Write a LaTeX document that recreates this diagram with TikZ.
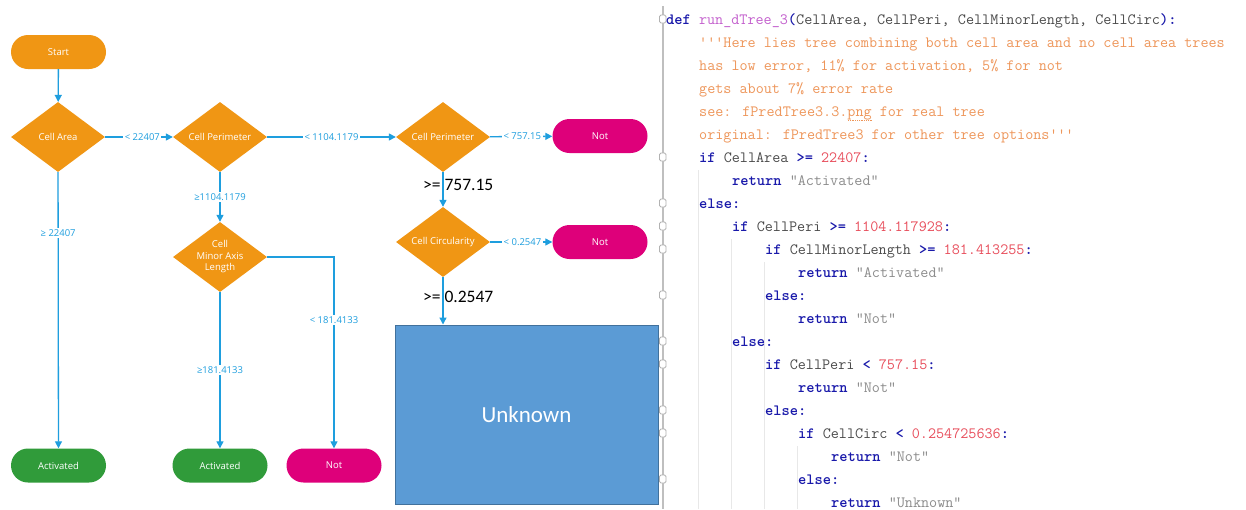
\documentclass[tikz,border=0pt]{standalone}
\usepackage{fontspec}
\setsansfont{Open Sans}
\newfontfamily\calfont{Carlito}
\usetikzlibrary{arrows.meta,shapes.geometric,positioning}
\definecolor{flowO}{RGB}{240,150,20}
\definecolor{flowM}{RGB}{222,0,122}
\definecolor{flowG}{RGB}{48,155,58}
\definecolor{flowB}{RGB}{30,158,222}
\definecolor{boxB}{RGB}{91,155,213}
\definecolor{boxE}{RGB}{65,113,156}
\definecolor{codeKw}{RGB}{25,25,170}
\definecolor{codeFn}{RGB}{195,95,205}
\definecolor{codeId}{RGB}{75,75,75}
\definecolor{codeDoc}{RGB}{238,150,90}
\definecolor{codeNum}{RGB}{232,78,92}
\definecolor{codeStr}{RGB}{140,140,140}
\newcommand\kw[1]{{\bfseries\color{codeKw}#1}}
\newcommand\cfn[1]{{\color{codeFn}#1}}
\newcommand\cid[1]{{\color{codeId}#1}}
\newcommand\cdoc[1]{{\color{codeDoc}#1}}
\newcommand\cnum[1]{{\color{codeNum}#1}}
\newcommand\cstr[1]{{\color{codeStr}#1}}
\newcommand\sq{\char"27\relax}

\begin{document}
\begin{tikzpicture}[x=1pt,y=-1pt,>={Triangle[length=7pt,width=7pt]},
  term/.style={rectangle,rounded corners=17pt,minimum width=95pt,minimum height=34pt,text=white,font=\sffamily\fontsize{9.5}{11}\selectfont},
  test/.style={diamond,aspect=1.33,inner sep=0pt,minimum width=94pt,minimum height=70pt,fill=flowO,text=white,align=center,font=\sffamily\fontsize{9.5}{11.5}\selectfont},
  link/.style={->,flowB,line width=1.3pt},
  cond/.style={fill=white,text=flowB,inner sep=1.5pt,font=\sffamily\fontsize{9.5}{11}\selectfont},
  big/.style={text=black,inner sep=0pt,font=\calfont\fontsize{17.5}{20}\selectfont},
  codeln/.style={anchor=base west,inner sep=0pt,font=\ttfamily\fontsize{15.7}{18}\selectfont},
  fold/.style={draw=black!30,fill=white,rounded corners=1.5pt,line width=0.8pt}]
\useasboundingbox[fill=white] (0,0) rectangle (1246,509);
% ---------- flow chart ----------
\node[term,fill=flowO] (start) at (58.5,52) {Start};
\node[test] (area) at (58,137) {Cell Area};
\node[test] (peri) at (220,137) {Cell Perimeter};
\node[test] (peri2) at (443,137) {Cell Perimeter};
\node[test] (circ) at (443,242) {Cell Circularity};
\node[test] (minor) at (220,257) {Cell\\Minor Axis\\Length};
\node[term,fill=flowM] (not1) at (600,136) {Not};
\node[term,fill=flowM] (not2) at (600,242) {Not};
\node[term,fill=flowG] (act1) at (58.5,465.5) {Activated};
\node[term,fill=flowG] (act2) at (220,465.5) {Activated};
\node[term,fill=flowM] (not3) at (334,465.5) {Not};
\node[rectangle,fill=boxB,draw=boxE,line width=1pt,minimum width=263pt,minimum height=179pt,text=white,font=\calfont\fontsize{23}{26}\selectfont] (unk) at (526.5,414.5) {Unknown};
% connectors
\draw[link] (start) -- (area);
\draw[link] (area) -- node[cond,pos=0.55]{< 22407} (peri);
\draw[link] (peri) -- node[cond]{< 1104.1179} (peri2);
\draw[link] (peri2) -- node[cond,pos=0.52]{< 757.15} (not1);
\draw[link] (circ) -- node[cond,pos=0.52]{< 0.2547} (not2);
\draw[link] (peri2) -- (circ);
\draw[link] (circ.south) -- (circ.south |- unk.north);
\draw[link] (area) -- node[cond,pos=0.22]{≥ 22407} (act1);
\draw[link] (peri) -- node[cond]{≥1104.1179} (minor);
\draw[link] (minor) -- node[cond]{≥181.4133} (act2);
\draw[link] (minor.east) -| node[cond,pos=0.665]{< 181.4133} (not3.north);
\node[big,anchor=west] (ge1) at (423,185) {>= 757.15};
\node[big,anchor=west] (ge2) at (423,297) {>= 0.2547};
% ---------- code ----------
\draw[black!25,line width=1.2pt] (663,6) -- (663,509);
\draw[black!9,line width=0.8pt] (698,170) -- (698,509);
\draw[black!9,line width=0.8pt] (731,239) -- (731,509);
\draw[black!9,line width=0.8pt] (764,262) -- (764,509);
\draw[black!9,line width=0.8pt] (797,446) -- (797,509);
\foreach \i in {1,7,9,10,11,13,15,16,18,19,21}
  \draw[fold] (659.5,{15+(\i-1)*23}) rectangle (666,{23+(\i-1)*23});
\node[codeln] (c1) at (666,24) {\kw{def} \cfn{run\_dTree\_3}\kw{(}\cid{CellArea, CellPeri, CellMinorLength, CellCirc}\kw{):}};
\node[codeln] (c2) at (699,47) {\cdoc{\sq\sq\sq Here lies tree combining both cell area and no cell area trees}};
\node[codeln] (c3) at (699,70) {\cdoc{has low error, 11\% for activation, 5\% for not}};
\node[codeln] (c4) at (699,93) {\cdoc{gets about 7\% error rate}};
\node[codeln] (c5) at (699,116) {\cdoc{see: fPredTree3.3.png for real tree}};
\node[codeln] (c6) at (699,139) {\cdoc{original: fPredTree3 for other tree options\sq\sq\sq}};
\node[codeln] (c7) at (699,162) {\kw{if} \cid{CellArea} \kw{>=} \cnum{22407}\kw{:}};
\node[codeln] (c8) at (732,185) {\kw{return} \cstr{"Activated"}};
\node[codeln] (c9) at (699,208) {\kw{else:}};
\node[codeln] (c10) at (732,231) {\kw{if} \cid{CellPeri} \kw{>=} \cnum{1104.117928}\kw{:}};
\node[codeln] (c11) at (765,254) {\kw{if} \cid{CellMinorLength} \kw{>=} \cnum{181.413255}\kw{:}};
\node[codeln] (c12) at (798,277) {\kw{return} \cstr{"Activated"}};
\node[codeln] (c13) at (765,300) {\kw{else:}};
\node[codeln] (c14) at (798,323) {\kw{return} \cstr{"Not"}};
\node[codeln] (c15) at (732,346) {\kw{else:}};
\node[codeln] (c16) at (765,369) {\kw{if} \cid{CellPeri} \kw{<} \cnum{757.15}\kw{:}};
\node[codeln] (c17) at (798,392) {\kw{return} \cstr{"Not"}};
\node[codeln] (c18) at (765,415) {\kw{else:}};
\node[codeln] (c19) at (798,438) {\kw{if} \cid{CellCirc} \kw{<} \cnum{0.254725636}\kw{:}};
\node[codeln] (c20) at (831,461) {\kw{return} \cstr{"Not"}};
\node[codeln] (c21) at (798,484) {\kw{else:}};
\node[codeln] (c22) at (831,507) {\kw{return} \cstr{"Unknown"}};
% squiggle under png
\draw[codeDoc,line width=0.8pt,densely dotted] (848,120) -- (872,120);
\end{tikzpicture}
\end{document}
